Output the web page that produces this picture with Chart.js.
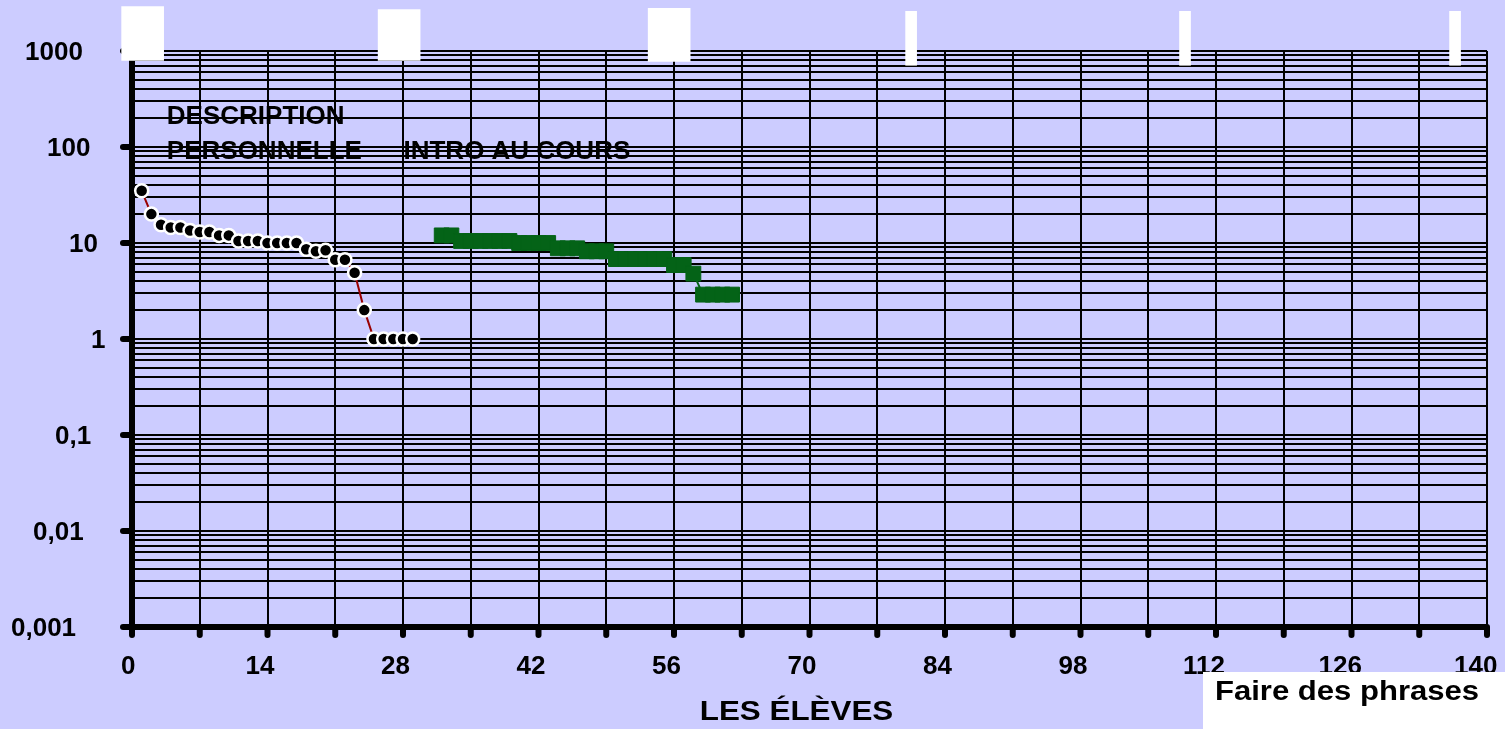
<!DOCTYPE html>
<html>
<head>
<meta charset="utf-8">
<script src="https://cdn.jsdelivr.net/npm/chart.js@4/dist/chart.umd.min.js"></script>
<style>
  html, body { margin: 0; padding: 0; background: #CCCCFF; }
  canvas { display: block; }
</style>
</head>
<body>
<canvas id="graph" width="1505" height="729"></canvas>
<script>
  // description personnelle (points ronds)
  var descX = [1, 2, 3, 4, 5, 6, 7, 8, 9, 10, 11, 12, 13, 14, 15, 16, 17, 18, 19, 20, 21, 22, 23, 24, 25, 26, 27, 28, 29];
  var descY = [35, 20, 15.5, 14.5, 14.5, 13.5, 13, 13, 12, 12, 10.5, 10.5, 10.5, 10, 10, 10, 10, 8.6, 8.2, 8.4, 6.7, 6.7, 4.9, 2, 1, 1, 1, 1, 1];

  // intro au cours (carres verts)
  var introX = [32, 33, 34, 35, 36, 37, 38, 39, 40, 41, 42, 43, 44, 45, 46, 47, 48, 49, 50, 51, 52, 53, 54, 55, 56, 57, 58, 59, 60, 61, 62];
  var introY = [12, 12, 10.5, 10.5, 10.5, 10.5, 10.5, 10.5, 10, 10, 10, 10, 8.8, 8.8, 8.8, 8.2, 8.2, 8.2, 6.8, 6.8, 6.8, 6.8, 6.8, 6.8, 5.9, 5.9, 4.8, 2.9, 2.9, 2.9, 2.9];

  // rectangles blancs en haut
  var wideX = [1.1, 27.6, 55.5];
  var wideLow = [800, 800, 780];
  var wideHigh = [2900, 2700, 2780];
  var thinX = [80.5, 108.8, 136.7];
  var thinLow = [710, 710, 710];
  var thinHigh = [2590, 2590, 2590];

  var xTicks = [0, 14, 28, 42, 56, 70, 84, 98, 112, 126, 140];
  var yTicks = [0.001, 0.01, 0.1, 1, 10, 100, 1000];
  var yTickLabels = ['0,001', '0,01', '0,1', '1', '10', '100', '1000'];

  var notes = [
    { text: 'DESCRIPTION', x: 3.6, y: 204 },
    { text: 'PERSONNELLE', x: 3.6, y: 90 },
    { text: 'INTRO AU COURS', x: 28.05, y: 90 }
  ];
  var xTitle = 'LES ÉLÈVES';
  var boxText = 'Faire des phrases';

  // lignes de la grille log : 1..9 x 10^k
  var yGrid = [];
  for (var k = -3; k < 3; k++) {
    for (var m = 1; m < 10; m++) {
      yGrid.push(Number((m * Math.pow(10, k)).toPrecision(6)));
    }
  }
  yGrid.push(1000);

  var FONT = '"Liberation Sans", Arial, sans-serif';

  var deco = {
    id: 'deco',
    beforeDraw: function(chart) {
      var ctx = chart.ctx, xs = chart.scales.x, ys = chart.scales.y;
      ctx.save();
      ctx.fillStyle = '#CCCCFF';
      ctx.fillRect(0, 0, chart.width, chart.height);
      ctx.fillStyle = '#000';
      ctx.font = 'bold 26px ' + FONT;
      ctx.textBaseline = 'middle';
      ctx.textAlign = 'left';
      notes.forEach(function(n) {
        ctx.fillText(n.text, xs.getPixelForValue(n.x), ys.getPixelForValue(n.y));
      });
      ctx.restore();
    },
    beforeDatasetsDraw: function(chart) {
      var ctx = chart.ctx, xs = chart.scales.x, ys = chart.scales.y;
      var ca = chart.chartArea;
      ctx.save();
      ctx.strokeStyle = '#000';
      ctx.lineWidth = 6;
      ctx.lineCap = 'round';
      // petites marques
      yTicks.forEach(function(v) {
        var py = ys.getPixelForValue(v);
        ctx.beginPath();
        ctx.moveTo(ca.left - 9, py);
        ctx.lineTo(ca.left - 2, py);
        ctx.stroke();
      });
      for (var v = 0; v <= 140; v += 7) {
        var px = xs.getPixelForValue(v);
        ctx.beginPath();
        ctx.moveTo(px, ca.bottom);
        ctx.lineTo(px, ca.bottom + 8);
        ctx.stroke();
      }
      ctx.fillStyle = '#000';
      ctx.font = 'bold 26px ' + FONT;
      ctx.textBaseline = 'middle';
      ctx.textAlign = 'left';
      yTickLabels.forEach(function(t, i) {
        var py = ys.getPixelForValue(yTicks[i]) + 2;
        var commas = t.split(',').length - 1;
        var digits = t.length - commas;
        ctx.fillText(t, ca.left - 19 - (22 * digits + 14 * commas), py);
      });
      xTicks.forEach(function(v) {
        var t = String(v);
        ctx.fillText(t, xs.getPixelForValue(v) - 11 * t.length, ca.bottom + 40);
      });
      // titre axe x
      ctx.save();
      ctx.translate((ca.left + ca.right) / 2 - 13, ca.bottom + 85);
      ctx.scale(1.12, 1);
      ctx.font = 'bold 28px ' + FONT;
      ctx.textAlign = 'center';
      ctx.fillText(xTitle, 0, 0);
      ctx.restore();
      ctx.restore();
    },
    afterDraw: function(chart) {
      var ctx = chart.ctx;
      ctx.save();
      ctx.fillStyle = '#FFFFFF';
      ctx.fillRect(chart.width - 302, chart.height - 57, 302, 57);
      ctx.fillStyle = '#000';
      ctx.translate(chart.width - 290, chart.height - 29);
      ctx.scale(1.15, 1);
      ctx.font = 'bold 27px ' + FONT;
      ctx.textBaseline = 'alphabetic';
      ctx.textAlign = 'left';
      ctx.fillText(boxText, 0, 0);
      ctx.restore();
    }
  };

  function pts(xs, ys) {
    return xs.map(function(x, i) { return { x: x, y: ys[i] }; });
  }
  function ranges(xs, lo, hi) {
    return xs.map(function(x, i) { return { x: x, y: [lo[i], hi[i]] }; });
  }

  new Chart(document.getElementById('graph'), {
    type: 'line',
    data: {
      datasets: [{
        label: 'Description personnelle',
        data: pts(descX, descY),
        borderColor: '#990000',
        borderWidth: 2,
        pointRadius: 6.5,
        pointBackgroundColor: '#000',
        pointBorderColor: '#fff',
        pointBorderWidth: 2.5
      }, {
        label: 'Intro au cours',
        data: pts(introX, introY),
        borderColor: '#046317',
        borderWidth: 2,
        pointStyle: 'rect',
        pointRadius: 10.5,
        pointBackgroundColor: '#046317',
        pointBorderColor: '#046317',
        pointBorderWidth: 1
      }, {
        type: 'bar',
        data: ranges(wideX, wideLow, wideHigh),
        backgroundColor: '#fff',
        borderWidth: 0,
        barThickness: 42,
        grouped: false,
        clip: false
      }, {
        type: 'bar',
        data: ranges(thinX, thinLow, thinHigh),
        backgroundColor: '#fff',
        borderWidth: 0,
        barThickness: 11,
        grouped: false,
        clip: false
      }]
    },
    options: {
      responsive: false,
      animation: false,
      events: [],
      layout: { padding: { top: 51, right: 18, left: 0, bottom: 0 } },
      plugins: { legend: { display: false }, tooltip: { enabled: false } },
      scales: {
        x: {
          type: 'linear', min: 0, max: 140, offset: false,
          ticks: { stepSize: 7, display: false },
          grid: { color: '#000', lineWidth: 2, drawTicks: false, offset: false },
          border: { color: '#000', width: 6 },
          afterFit: function(s) { s.height = 102; }
        },
        y: {
          type: 'logarithmic', min: 0.001, max: 1000,
          ticks: { display: false },
          grid: { color: '#000', lineWidth: 2, drawTicks: false },
          border: { color: '#000', width: 6 },
          afterBuildTicks: function(s) { s.ticks = yGrid.map(function(v) { return { value: v }; }); },
          afterFit: function(s) { s.width = 132; }
        }
      }
    },
    plugins: [deco]
  });
</script>
</body>
</html>
